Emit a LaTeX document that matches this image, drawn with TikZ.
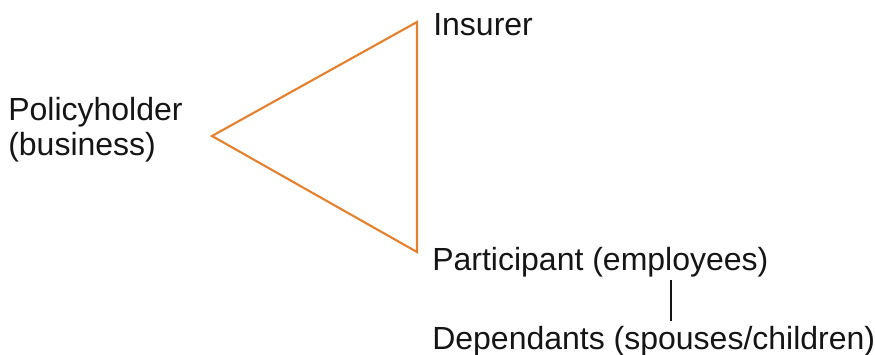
\documentclass[tikz,border=0pt]{standalone}
\usepackage{fontspec}
\setmainfont{Liberation Sans}
\usepackage{xcolor}
\usetikzlibrary{calc}
\definecolor{polorange}{HTML}{E2812F}
\definecolor{polink}{HTML}{151515}

\begin{document}
\begin{tikzpicture}[x=0.75pt,y=-0.75pt,
  party/.style={inner sep=0pt, font=\fontsize{24}{26.25}\selectfont, text=polink},
  bond/.style={polorange, line width=1.6pt, line join=miter}]
  \useasboundingbox (0,0) rectangle (875,354);

  % Triangle corners
  \coordinate (holder) at (212,136);
  \coordinate (insurer) at (417,22);
  \coordinate (member) at (417,252);
  \draw[bond] (holder) -- (insurer) -- (member) -- cycle;

  % Parties
  \node[party, anchor=base west] (insurerlbl) at (433,35) {Insurer};
  \node[party, anchor=west, align=left] (holderlbl) at (8,130) {Policyholder\\(business)};
  \node[party, anchor=base west] (participant) at (432,270) {Participant (employees)};
  \node[party, anchor=base west] (dependants) at (432,349) {Dependants (spouses/children)};

  % Participant to dependants
  \coordinate (tie) at (671,0);
  \draw[polink, line width=1.2pt, shorten <=2.25pt, shorten >=3.75pt]
    (participant.south -| tie) -- (dependants.north -| tie);
\end{tikzpicture}
\end{document}
